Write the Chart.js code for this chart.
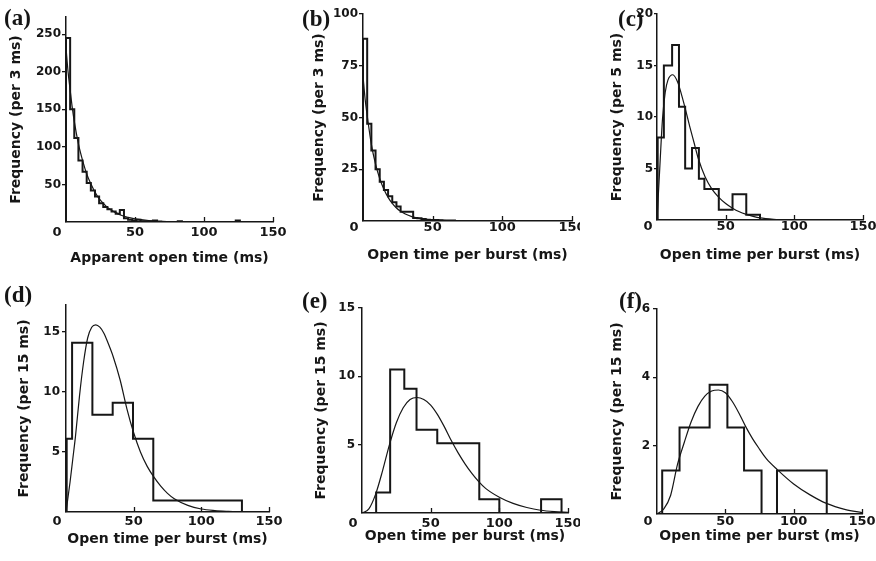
<!DOCTYPE html>
<html>
<head>
<meta charset="utf-8">
<script src="https://cdn.jsdelivr.net/npm/chart.js@4.4.1/dist/chart.umd.min.js"></script>
<style>
  body { margin: 0; background: #fff; }
  #fig { position: relative; width: 876px; height: 561px; overflow: hidden; background: #fff; }
  #fig canvas { position: absolute; }
  .tag { position: absolute; font: bold 23px "Liberation Serif", "Times New Roman", serif; line-height: 22px; color: #151515; }
</style>
</head>
<body>
<div id="fig">
  <canvas id="pa" width="290" height="280" style="left:0px;top:0px"></canvas>
  <canvas id="pb" width="290" height="280" style="left:290px;top:0px"></canvas>
  <canvas id="pc" width="296" height="280" style="left:580px;top:0px"></canvas>
  <canvas id="pd" width="290" height="281" style="left:0px;top:280px"></canvas>
  <canvas id="pe" width="290" height="281" style="left:290px;top:280px"></canvas>
  <canvas id="pf" width="296" height="281" style="left:580px;top:280px"></canvas>
  <div class="tag" style="left:4px;top:7px">(a)</div>
  <div class="tag" style="left:302px;top:8px">(b)</div>
  <div class="tag" style="left:618px;top:8px">(c)</div>
  <div class="tag" style="left:4px;top:284px">(d)</div>
  <div class="tag" style="left:302px;top:290px">(e)</div>
  <div class="tag" style="left:619px;top:290px">(f)</div>
</div>
<script>
// Six open-time histograms with fitted curves

const xTicks = [0, 50, 100, 150];

// (a) apparent open time, 3 ms bins
const aEdges = [0, 3, 6, 9, 12, 15, 18, 21, 24, 27, 30, 33, 36, 39, 42, 45, 48, 51, 54, 57, 60, 63, 66, 81, 84, 123, 126];
const aCounts = [245, 150, 112, 82, 67, 52, 42, 34, 25, 20, 17, 14, 11, 16, 5, 3, 2, 3, 1, 1, 1, 2, 0, 1, 0, 2];
const aFitX = [0, 1.5, 3, 4.5, 6, 9, 12, 15, 18, 21, 24, 27, 30, 35, 40, 45, 50, 60, 70, 85, 100, 125];
const aFitY = [232, 200, 176, 153, 134, 104, 82, 64, 51, 40, 31, 25, 19.5, 13.5, 9, 6.2, 4.2, 2, 1, 0.3, 0.1, 0];

// (b) open time per burst, 3 ms bins
const bEdges = [0, 3, 6, 9, 12, 15, 18, 21, 24, 27, 30, 33, 36, 39, 42, 45, 48, 51, 54, 57, 60, 63, 66];
const bCounts = [88, 47, 34, 25, 19, 15, 12, 9, 7, 4.5, 4.5, 4.5, 1.5, 1.3, 1, 0.6, 0.5, 0.5, 0.4, 0.3, 0.3, 0.2];
const bFitX = [0, 1.5, 3, 6, 9, 12, 15, 18, 21, 24, 27, 30, 35, 40, 45, 50, 60, 70];
const bFitY = [70, 59, 51, 37, 27.5, 20.5, 15.3, 11.4, 8.5, 6.3, 4.7, 3.5, 2.1, 1.3, 0.8, 0.5, 0.2, 0.05];

// (c) open time per burst, 5 ms bins
const cEdges = [0.5, 5, 11, 16, 20.5, 25.5, 30.5, 34.5, 45, 55, 65, 75];
const cCounts = [8, 15, 17, 11, 5, 7, 4, 3, 1, 2.5, 0.5];
const cFitX = [0, 2, 4, 6, 8, 11.5, 15, 18, 21, 24, 27, 30, 35, 40, 45, 50, 55, 60, 65, 70, 75, 85, 100];
const cFitY = [0, 5, 9.8, 12.4, 13.6, 14.1, 13.4, 12.1, 10.6, 9, 7.5, 6, 4.2, 3, 2.2, 1.6, 1.15, 0.8, 0.55, 0.35, 0.2, 0.07, 0];

// (d) open time per burst, 15 ms bins
const dEdges = [0.5, 4.5, 19.5, 34.5, 49.5, 64.5, 130];
const dCounts = [6.1, 14.1, 8.1, 9.1, 6.1, 0.95];
const dFitX = [0, 3, 5, 7, 10, 13, 16, 19, 22, 25, 28, 31, 35, 40, 45, 50, 55, 60, 65, 70, 75, 80, 90, 100, 110, 120, 130];
const dFitY = [0, 2.5, 4.4, 6.3, 9.7, 12.5, 14.5, 15.4, 15.6, 15.4, 14.9, 14.1, 12.9, 11, 8.6, 6.6, 5, 3.8, 2.9, 2.15, 1.55, 1.1, 0.55, 0.25, 0.12, 0.05, 0];

// (e) open time per burst, 15 ms bins
const eEdges = [10.3, 20.5, 30.8, 39.7, 54.8, 85.4, 100, 130.4, 145.3];
const eCounts = [1.5, 10.5, 9.1, 6.1, 5.1, 1.0, 0, 1.0];
const eFitX = [0, 5, 10, 15, 20, 25, 30, 35, 40, 45, 50, 55, 60, 65, 70, 75, 80, 85, 90, 100, 110, 120, 130, 140, 150];
const eFitY = [0, 0.3, 1.4, 3.1, 5, 6.6, 7.7, 8.3, 8.45, 8.3, 7.9, 7.2, 6.3, 5.3, 4.4, 3.6, 2.9, 2.3, 1.8, 1.15, 0.7, 0.4, 0.2, 0.1, 0.05];

// (f) open time per burst, 15 ms bins
const fEdges = [3.8, 16.5, 38.5, 51.5, 63.7, 76.5, 87.8, 124.2];
const fCounts = [1.27, 2.53, 3.78, 2.53, 1.27, 0, 1.27];
const fFitX = [0, 5, 10, 15, 20, 25, 30, 35, 40, 45, 50, 55, 60, 65, 70, 75, 80, 88, 100, 112, 124, 138, 150];
const fFitY = [0, 0.15, 0.55, 1.45, 2.1, 2.7, 3.15, 3.45, 3.6, 3.63, 3.55, 3.3, 2.95, 2.55, 2.2, 1.9, 1.62, 1.3, 0.88, 0.56, 0.31, 0.13, 0.04];

const ink = '#161616';
Chart.defaults.font.family = '"DejaVu Sans", "Liberation Sans", sans-serif';
Chart.defaults.font.weight = 'bold';
Chart.defaults.color = ink;

// histogram outline from bin edges and heights
function outline(edges, counts) {
  const pts = [{x: edges[0], y: 0}];
  counts.forEach((c, i) => {
    pts.push({x: edges[i], y: c});
    pts.push({x: edges[i + 1], y: c});
  });
  pts.push({x: edges[edges.length - 1], y: 0});
  return pts;
}

// little inward ticks on the x axis, like the original
const inwardTicks = {
  id: 'inwardTicks',
  afterDraw(chart) {
    const {ctx, scales: {x, y}} = chart;
    ctx.save();
    ctx.strokeStyle = ink;
    ctx.lineWidth = 1.3;
    x.ticks.forEach(t => {
      if (t.value === 0) return;
      const px = Math.round(x.getPixelForValue(t.value)) + 0.5;
      ctx.beginPath();
      ctx.moveTo(px, y.bottom);
      ctx.lineTo(px, y.bottom - 5);
      ctx.stroke();
    });
    ctx.restore();
  }
};

function makePanel(id, p) {
  const ctx = document.getElementById(id).getContext('2d');
  return new Chart(ctx, {
    type: 'line',
    data: {
      datasets: [{
        label: 'histogram',
        data: outline(p.edges, p.counts),
        borderColor: ink,
        borderWidth: 2,
        pointRadius: 0,
        tension: 0
      }, {
        label: 'fit',
        data: p.fitX.map((x, i) => ({x: x, y: p.fitY[i]})),
        borderColor: ink,
        borderWidth: 1.2,
        pointRadius: 0,
        cubicInterpolationMode: 'monotone'
      }]
    },
    options: {
      responsive: false,
      animation: false,
      layout: {padding: p.pad},
      plugins: {legend: {display: false}, tooltip: {enabled: false}},
      scales: {
        x: {
          type: 'linear',
          min: 0,
          max: 150,
          afterBuildTicks: s => { s.ticks = xTicks.map(v => ({value: v})); },
          afterFit: s => { s.height = p.xHeight; s.paddingLeft = 0; s.paddingRight = 0; },
          grid: {display: false, drawTicks: false},
          border: {display: true, color: ink, width: 1.5},
          ticks: {
            font: {size: 13},
            padding: p.xTickPad,
            maxRotation: 0,
            autoSkip: false,
            callback: v => (v === 0 ? '0    ' : String(v))
          },
          title: {display: true, text: p.xTitle, font: {size: 14}, padding: 0}
        },
        y: {
          type: 'linear',
          min: 0,
          max: p.yMax,
          afterBuildTicks: s => { s.ticks = s.ticks.filter(t => t.value > 0 && t.value % p.yStep === 0); },
          afterFit: s => { s.width = p.yWidth; s.paddingTop = 0; s.paddingBottom = 0; },
          grid: {display: true, drawOnChartArea: false, drawTicks: true, tickLength: p.yTickLen || 4, color: ink, lineWidth: 1.3},
          border: {display: true, color: ink, width: 1.5},
          ticks: {font: {size: 12}, padding: p.yTickPad, stepSize: p.yStep},
          title: {display: true, text: p.yTitle, font: {size: 14}, padding: 0}
        }
      }
    },
    plugins: [inwardTicks]
  });
}

const perBurst = 'Open time per burst (ms)';

makePanel('pa', {edges: aEdges, counts: aCounts, fitX: aFitX, fitY: aFitY,
  yMax: 273, yStep: 50, yTitle: 'Frequency (per 3 ms)', xTitle: 'Apparent open time (ms)',
  pad: {left: 8, top: 17, right: 17, bottom: 13}, yWidth: 58, xHeight: 45, xTickPad: 3, yTickPad: 1});

makePanel('pb', {edges: bEdges, counts: bCounts, fitX: bFitX, fitY: bFitY,
  yMax: 100, yStep: 25, yTitle: 'Frequency (per 3 ms)', xTitle: perBurst,
  pad: {left: 21, top: 14, right: 8, bottom: 16}, yWidth: 52, xHeight: 43, xTickPad: -1, yTickPad: 1});

makePanel('pc', {edges: cEdges, counts: cCounts, fitX: cFitX, fitY: cFitY,
  yMax: 20, yStep: 5, yTitle: 'Frequency (per 5 ms)', xTitle: perBurst,
  pad: {left: 29, top: 14, right: 13, bottom: 16}, yWidth: 48, xHeight: 44, xTickPad: -1, yTickPad: 1, yTickLen: 3});

makePanel('pd', {edges: dEdges, counts: dCounts, fitX: dFitX, fitY: dFitY,
  yMax: 17.25, yStep: 5, yTitle: 'Frequency (per 15 ms)', xTitle: perBurst,
  pad: {left: 16, top: 25, right: 21, bottom: 13}, yWidth: 50, xHeight: 36, xTickPad: 2, yTickPad: 2});

makePanel('pe', {edges: eEdges, counts: eCounts, fitX: eFitX, fitY: eFitY,
  yMax: 15, yStep: 5, yTitle: 'Frequency (per 15 ms)', xTitle: perBurst,
  pad: {left: 23, top: 28, right: 12, bottom: 16}, yWidth: 49, xHeight: 32, xTickPad: 3, yTickPad: 3});

makePanel('pf', {edges: fEdges, counts: fCounts, fitX: fFitX, fitY: fFitY,
  yMax: 6, yStep: 2, yTitle: 'Frequency (per 15 ms)', xTitle: perBurst,
  pad: {left: 29, top: 29, right: 14, bottom: 16}, yWidth: 48, xHeight: 31, xTickPad: 0, yTickPad: 3});
</script>
</body>
</html>
